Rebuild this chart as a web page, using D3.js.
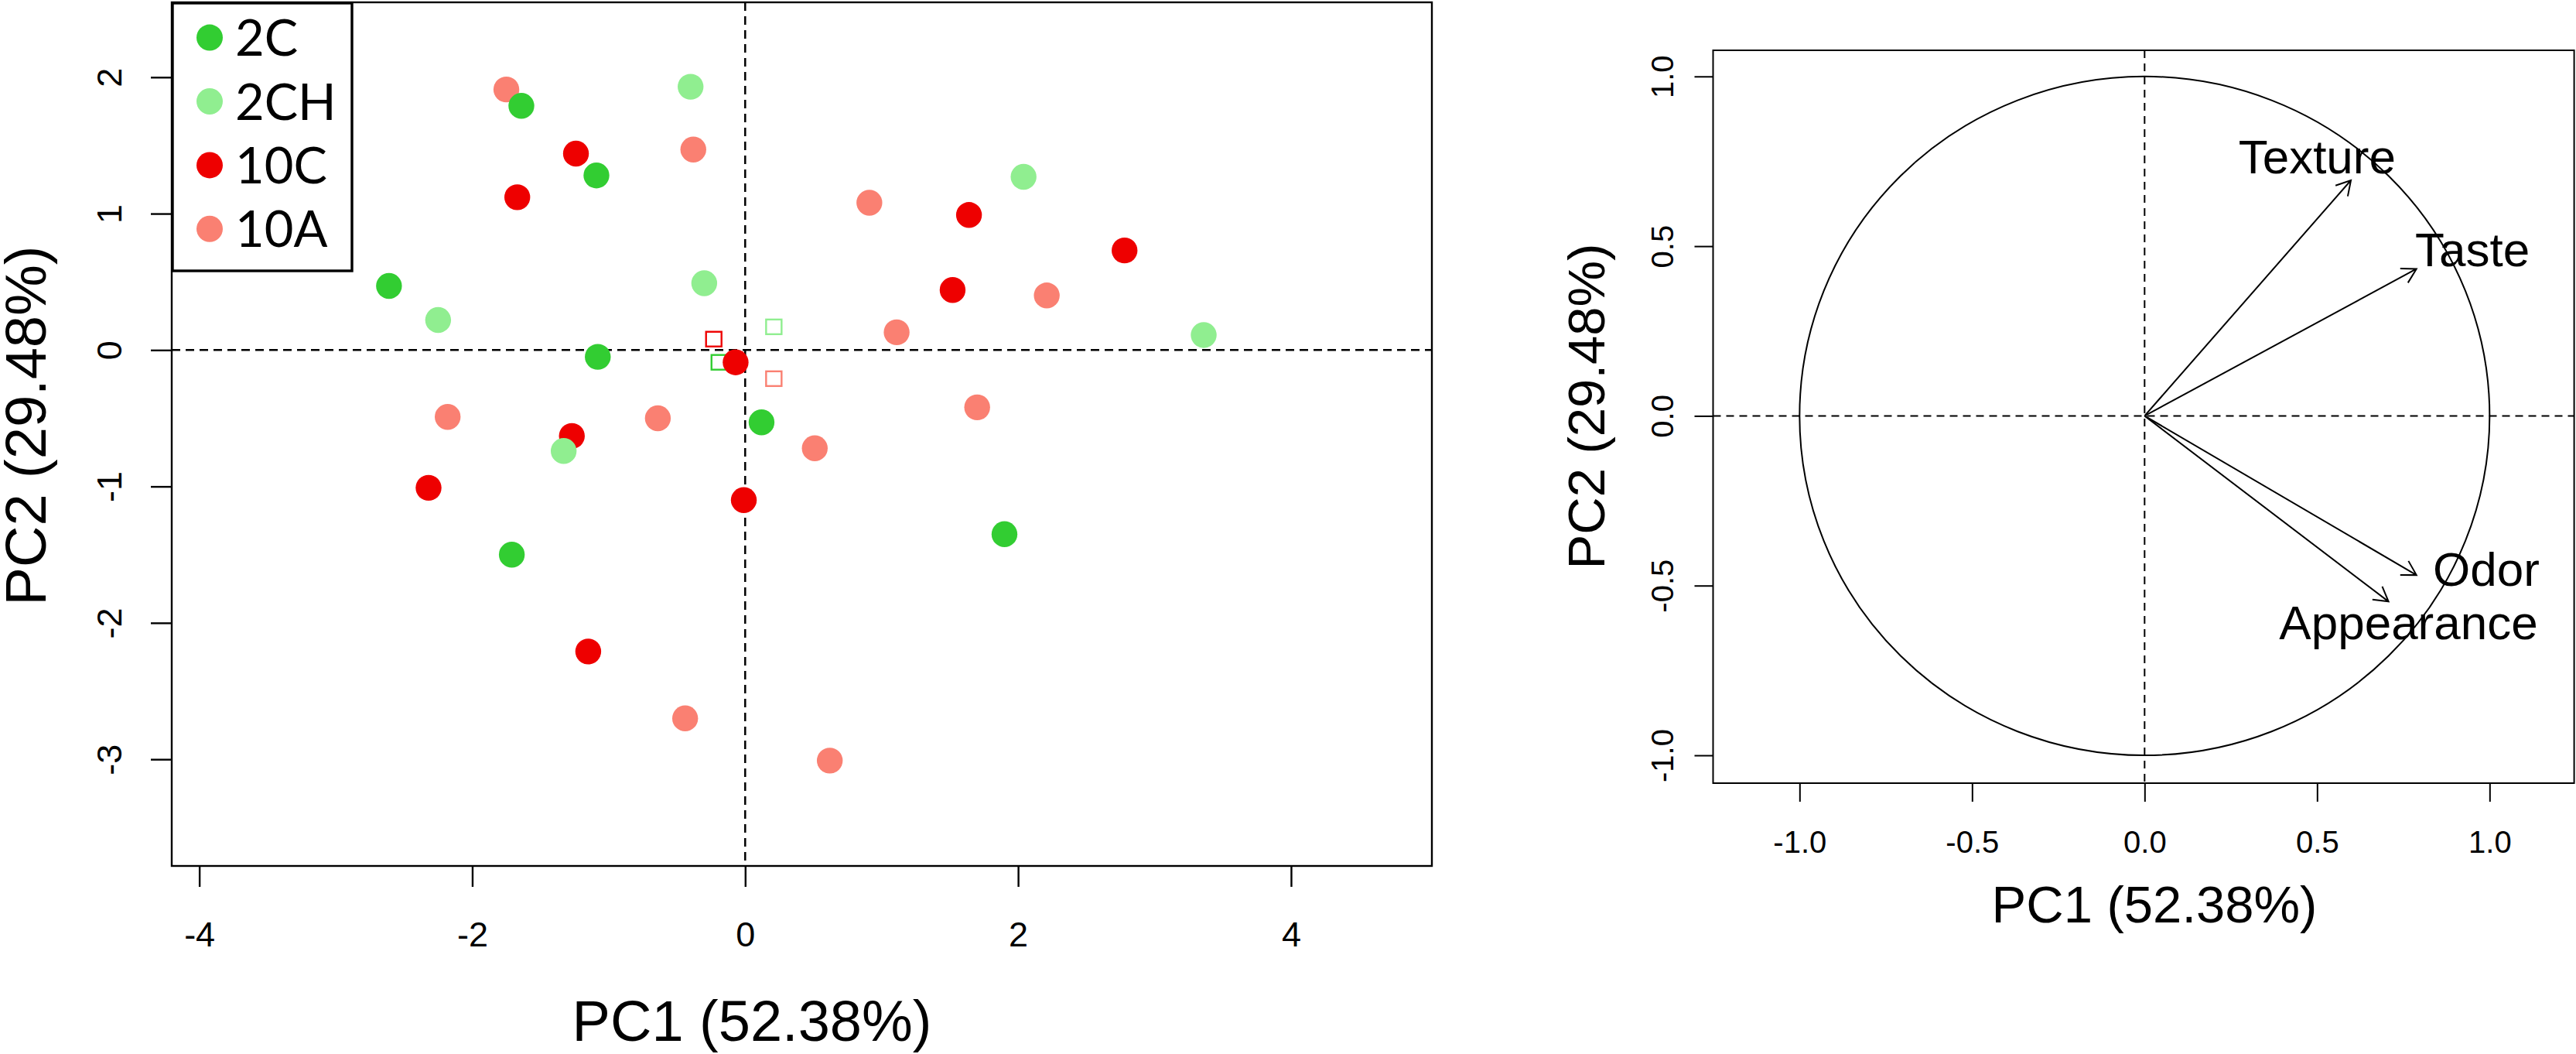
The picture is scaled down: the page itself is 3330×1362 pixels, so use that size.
<!DOCTYPE html>
<html>
<head>
<meta charset="utf-8">
<script src="https://cdn.jsdelivr.net/npm/d3@7"></script>
<style>
  body { margin: 0; background: #fff; }
  text { font-family: "Liberation Sans", Arial, sans-serif; fill: #000; }
  .legend text { font-family: Lato, "Open Sans", sans-serif; }
</style>
</head>
<body>
<script>
// groups and their colours
var groups = ["2C", "2CH", "10C", "10A"];
var groupColors = ["#32cd32", "#90ee90", "#ee0000", "#fa8072"];

// individual scores (PC1, PC2) per group
var scores2C  = [[-2.61, 0.47], [-1.64, 1.79], [-1.09, 1.28], [-1.08, -0.05],
                 [0.12, -0.53], [-1.71, -1.50], [1.90, -1.35]];
var scores2CH = [[-0.40, 1.93], [-2.25, 0.22], [-0.30, 0.49], [-1.33, -0.74],
                 [2.04, 1.27], [3.36, 0.11]];
var scores10C = [[-1.24, 1.44], [-1.67, 1.12], [1.64, 0.99], [2.78, 0.73],
                 [1.52, 0.44], [-0.07, -0.09], [-1.27, -0.63], [-2.32, -1.01],
                 [-0.01, -1.10], [-1.15, -2.21]];
var scores10A = [[-1.75, 1.91], [-0.38, 1.47], [0.91, 1.08], [2.21, 0.40],
                 [1.11, 0.13], [1.70, -0.42], [-2.18, -0.49], [-0.64, -0.50],
                 [0.51, -0.72], [-0.44, -2.70], [0.62, -3.01]];

// group centroids (open squares)
var centroidPC1 = [-0.19, 0.21, -0.23, 0.21];
var centroidPC2 = [-0.09, 0.17, 0.08, -0.21];

// variable loadings for the correlation circle
var variables = ["Texture", "Taste", "Odor", "Appearance"];
var loadingPC1 = [0.598, 0.788, 0.788, 0.707];
var loadingPC2 = [0.694, 0.433, -0.469, -0.547];
// label anchors in the same units
var labelPC1 = [0.50, 0.95, 0.99, 0.765];
var labelPC2 = [0.766, 0.492, -0.451, -0.607];

// tick values
var leftXTicks = [-4, -2, 0, 2, 4];
var leftYTicks = [-3, -2, -1, 0, 1, 2];
var rightTicks = [-1, -0.5, 0, 0.5, 1];

var xTitle = "PC1 (52.38%)", yTitle = "PC2 (29.48%)";

// R prints a plain hyphen for negatives
var fmtInt = function(d) { return String(d); },
    fmtOne = function(d) { return d.toFixed(1); };

var svg = d3.select("body").append("svg")
    .attr("width", 3330)
    .attr("height", 1362);

svg.append("rect").attr("width", 3330).attr("height", 1362).attr("fill", "#fff");

// ---------- left panel: scores ----------
var L = {left: 222, right: 1851, top: 3, bottom: 1119};

var xL = d3.scaleLinear().domain([-4.202, 5.032]).range([L.left, L.right]),
    yL = d3.scaleLinear().domain([-3.782, 2.549]).range([L.bottom, L.top]);

var left = svg.append("g");

// dashed zero lines
left.append("line")
    .attr("x1", xL(0)).attr("x2", xL(0)).attr("y1", L.top).attr("y2", L.bottom)
    .attr("stroke", "#000").attr("stroke-width", 2.5).attr("stroke-dasharray", "11,7");
left.append("line")
    .attr("x1", L.left).attr("x2", L.right).attr("y1", yL(0)).attr("y2", yL(0))
    .attr("stroke", "#000").attr("stroke-width", 2.5).attr("stroke-dasharray", "11,7");

// centroids
left.selectAll("rect.centroid")
    .data(groups)
  .enter().append("rect")
    .attr("class", "centroid")
    .attr("x", function(d, i) { return xL(centroidPC1[i]) - 10; })
    .attr("y", function(d, i) { return yL(centroidPC2[i]) - 9.5; })
    .attr("width", 20).attr("height", 19)
    .attr("fill", "none")
    .attr("stroke", function(d, i) { return groupColors[i]; })
    .attr("stroke-width", 2.4);

// points, drawn 10A, 10C, 2CH, 2C
var allScores = [scores2C, scores2CH, scores10C, scores10A];
[3, 2, 1, 0].forEach(function(gi) {
  left.selectAll("circle.g" + gi)
      .data(allScores[gi])
    .enter().append("circle")
      .attr("class", "g" + gi)
      .attr("cx", function(d) { return xL(d[0]); })
      .attr("cy", function(d) { return yL(d[1]); })
      .attr("r", 16.7)
      .attr("fill", groupColors[gi]);
});

// box
left.append("rect")
    .attr("x", L.left).attr("y", L.top)
    .attr("width", L.right - L.left).attr("height", L.bottom - L.top)
    .attr("fill", "none").attr("stroke", "#000").attr("stroke-width", 2.4);

// axes
var xAxisL = left.append("g")
    .attr("transform", "translate(0," + L.bottom + ")")
    .call(d3.axisBottom(xL).tickValues(leftXTicks).tickSize(27).tickFormat(fmtInt));
xAxisL.select(".domain").remove();
xAxisL.selectAll(".tick line").attr("stroke-width", 2.4);
xAxisL.selectAll(".tick text")
    .attr("y", 104).attr("dy", null)
    .style("font-size", "45px").style("font-family", "Liberation Sans, Arial, sans-serif");

var yAxisL = left.append("g")
    .attr("transform", "translate(" + L.left + ",0)")
    .call(d3.axisLeft(yL).tickValues(leftYTicks).tickSize(27).tickFormat(fmtInt));
yAxisL.select(".domain").remove();
yAxisL.selectAll(".tick line").attr("stroke-width", 2.4);
yAxisL.selectAll(".tick text")
    .attr("x", null).attr("dy", null)
    .attr("transform", "translate(-65,0) rotate(-90)")
    .attr("text-anchor", "middle")
    .style("font-size", "45px").style("font-family", "Liberation Sans, Arial, sans-serif");

// axis titles
left.append("text")
    .attr("x", 972).attr("y", 1345)
    .attr("text-anchor", "middle")
    .style("font-size", "74px")
    .text(xTitle);
left.append("text")
    .attr("transform", "translate(59,550) rotate(-90)")
    .attr("text-anchor", "middle")
    .style("font-size", "74px")
    .text(yTitle);

// legend
var legend = left.append("g").attr("class", "legend");
legend.append("rect")
    .attr("x", 223).attr("y", 4)
    .attr("width", 232).attr("height", 346)
    .attr("fill", "#fff").attr("stroke", "#000").attr("stroke-width", 3.4);
var legendRow = d3.scalePoint().domain(groups).range([48.6, 295.8]);
legend.selectAll("circle")
    .data(groups)
  .enter().append("circle")
    .attr("cx", 271)
    .attr("cy", function(d) { return legendRow(d); })
    .attr("r", 17)
    .attr("fill", function(d, i) { return groupColors[i]; });
legend.selectAll("text")
    .data(groups)
  .enter().append("text")
    .attr("x", 304)
    .attr("y", function(d) { return legendRow(d) + 23.5; })
    .style("font-size", "65px")
    .text(function(d) { return d; });

// ---------- right panel: correlation circle ----------
var R = {left: 2214.5, right: 3327.6, top: 65, bottom: 1012};

var xR = d3.scaleLinear().domain([-1.2507, 1.245]).range([R.left, R.right]),
    yR = d3.scaleLinear().domain([-1.082, 1.077]).range([R.bottom, R.top]);

var right = svg.append("g");

right.append("line")
    .attr("x1", xR(0)).attr("x2", xR(0)).attr("y1", R.top).attr("y2", R.bottom)
    .attr("stroke", "#000").attr("stroke-width", 2).attr("stroke-dasharray", "10,7");
right.append("line")
    .attr("x1", R.left).attr("x2", R.right).attr("y1", yR(0)).attr("y2", yR(0))
    .attr("stroke", "#000").attr("stroke-width", 2).attr("stroke-dasharray", "10,7");

// unit circle
right.append("ellipse")
    .attr("cx", xR(0)).attr("cy", yR(0))
    .attr("rx", xR(1) - xR(0)).attr("ry", yR(0) - yR(1))
    .attr("fill", "none").attr("stroke", "#000").attr("stroke-width", 2);

// arrows
var headLen = 21, headAng = Math.PI / 6;
variables.forEach(function(v, i) {
  var x0 = xR(0), y0 = yR(0), x1 = xR(loadingPC1[i]), y1 = yR(loadingPC2[i]);
  var a = Math.atan2(y1 - y0, x1 - x0);
  var p = d3.path();
  p.moveTo(x0, y0); p.lineTo(x1, y1);
  p.moveTo(x1 - headLen * Math.cos(a - headAng), y1 - headLen * Math.sin(a - headAng));
  p.lineTo(x1, y1);
  p.lineTo(x1 - headLen * Math.cos(a + headAng), y1 - headLen * Math.sin(a + headAng));
  right.append("path")
      .attr("d", p.toString())
      .attr("fill", "none").attr("stroke", "#000").attr("stroke-width", 2);
});

right.selectAll("text.var")
    .data(variables)
  .enter().append("text")
    .attr("class", "var")
    .attr("x", function(d, i) { return xR(labelPC1[i]); })
    .attr("y", function(d, i) { return yR(labelPC2[i]); })
    .attr("dy", "0.358em")
    .attr("text-anchor", "middle")
    .style("font-size", "62px")
    .text(function(d) { return d; });

// box
right.append("rect")
    .attr("x", R.left).attr("y", R.top)
    .attr("width", R.right - R.left).attr("height", R.bottom - R.top)
    .attr("fill", "none").attr("stroke", "#000").attr("stroke-width", 2);

var xAxisR = right.append("g")
    .attr("transform", "translate(0," + R.bottom + ")")
    .call(d3.axisBottom(xR).tickValues(rightTicks).tickSize(24).tickFormat(fmtOne));
xAxisR.select(".domain").remove();
xAxisR.selectAll(".tick line").attr("stroke-width", 2);
xAxisR.selectAll(".tick text")
    .attr("y", 90).attr("dy", null)
    .style("font-size", "40px").style("font-family", "Liberation Sans, Arial, sans-serif");

var yAxisR = right.append("g")
    .attr("transform", "translate(" + R.left + ",0)")
    .call(d3.axisLeft(yR).tickValues(rightTicks).tickSize(24).tickFormat(fmtOne));
yAxisR.select(".domain").remove();
yAxisR.selectAll(".tick line").attr("stroke-width", 2);
yAxisR.selectAll(".tick text")
    .attr("x", null).attr("dy", null)
    .attr("transform", "translate(-52,0) rotate(-90)")
    .attr("text-anchor", "middle")
    .style("font-size", "40px").style("font-family", "Liberation Sans, Arial, sans-serif");

right.append("text")
    .attr("x", 2785).attr("y", 1192)
    .attr("text-anchor", "middle")
    .style("font-size", "67px")
    .text(xTitle);
right.append("text")
    .attr("transform", "translate(2074,525) rotate(-90)")
    .attr("text-anchor", "middle")
    .style("font-size", "67px")
    .text(yTitle);
</script>
</body>
</html>
